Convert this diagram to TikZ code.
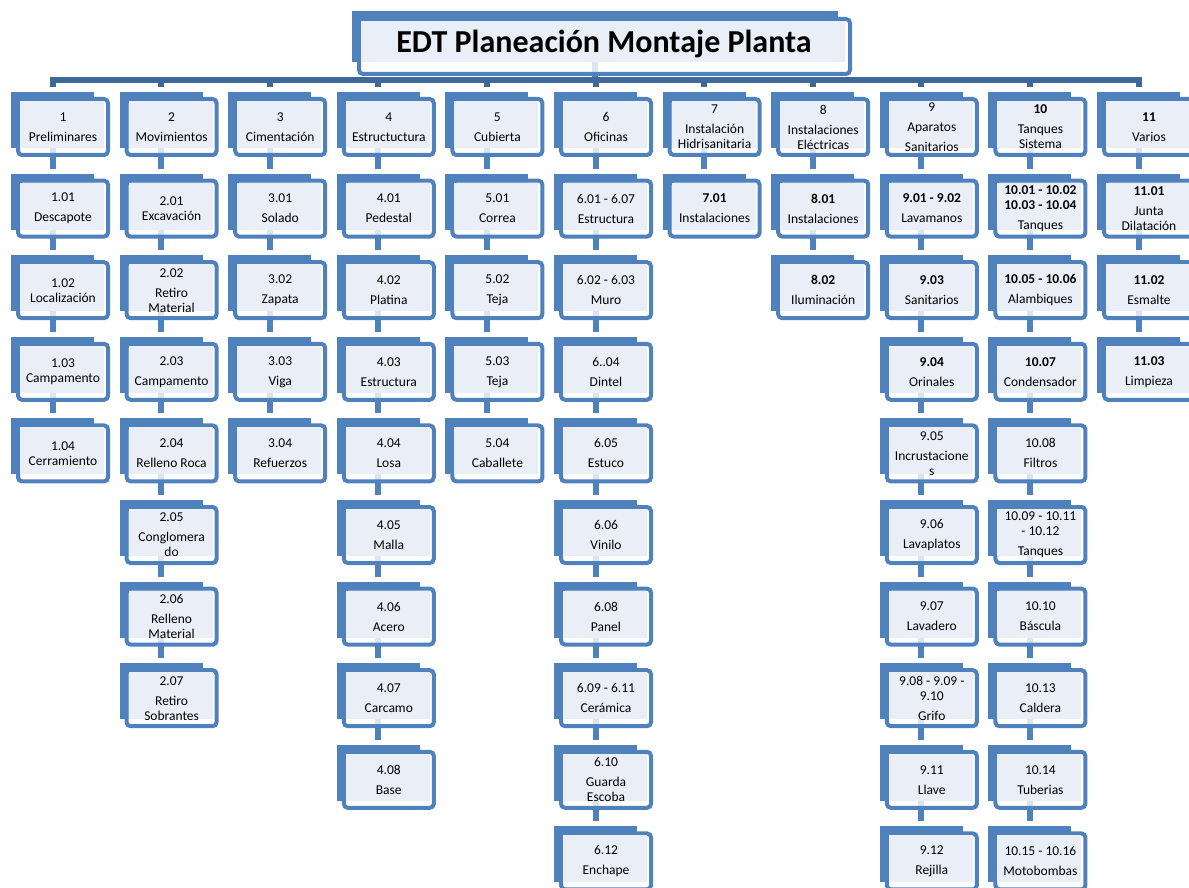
\documentclass[tikz,border=0pt]{standalone}
\usepackage{fontspec}
\setmainfont{Carlito}
\definecolor{boxblue}{HTML}{4F81BD}
\definecolor{busblue}{HTML}{3E6898}
\definecolor{lightfill}{HTML}{EAEFF7}
\tikzset{
  backrect/.style={fill=boxblue},
  frontrect/.style={draw=boxblue, line width=4pt, rounded corners=4pt, fill=white, fill opacity=0.8},
  lightrect/.style={fill=lightfill},
  lbl/.style={align=center, inner sep=0pt, font=\fontsize{13.5}{15}\selectfont},
  ttl/.style={inner sep=0pt, font=\fontsize{32}{36}\selectfont\bfseries},
  conn/.style={draw=boxblue, line width=6pt},
  busline/.style={draw=busblue, line width=6pt},
}
% pass 1: named end points only
\newcommand\wbspoints[4]{%
  \pgfmathsetmacro\bx{11+108.6*#2}%
  \pgfmathsetmacro\by{92+81.6*#3}%
  \coordinate (#1-t) at (\bx+41.5,\by-5);
  \coordinate (#1-b) at (\bx+41.5,\by+56);
}
% pass 2: the boxes themselves
\newcommand\wbsfull[4]{%
  \pgfmathsetmacro\bx{11+108.6*#2}%
  \pgfmathsetmacro\by{92+81.6*#3}%
  \fill[backrect] (\bx,\by) rectangle ++(83,56);
  \draw[frontrect] (\bx+7,\by+7) rectangle ++(90,56);
  \fill[lightrect] (\bx+9,\by+9) rectangle (\bx+93,\by+56);
  \node[lbl] (#1) at (\bx+52,\by+35) {#4};
}
\newcommand\allboxes{%
% column 1
\wbsbox{n0-0}{0}{0}{1\\[5pt]Preliminares}
\wbsbox{n0-1}{0}{1}{1.01\\[5pt]Descapote}
\wbsbox{n0-2}{0}{2}{1.02\\Localización}
\wbsbox{n0-3}{0}{3}{1.03\\Campamento}
\wbsbox{n0-4}{0}{4}{1.04\\Cerramiento}
% column 2
\wbsbox{n1-0}{1}{0}{2\\[5pt]Movimientos}
\wbsbox{n1-1}{1}{1}{2.01\\Excavación}
\wbsbox{n1-2}{1}{2}{2.02\\[5pt]Retiro\\Material}
\wbsbox{n1-3}{1}{3}{2.03\\[5pt]Campamento}
\wbsbox{n1-4}{1}{4}{2.04\\[5pt]Relleno Roca}
\wbsbox{n1-5}{1}{5}{2.05\\[5pt]Conglomera\\do}
\wbsbox{n1-6}{1}{6}{2.06\\[5pt]Relleno\\Material}
\wbsbox{n1-7}{1}{7}{2.07\\[5pt]Retiro\\Sobrantes}
% column 3
\wbsbox{n2-0}{2}{0}{3\\[5pt]Cimentación}
\wbsbox{n2-1}{2}{1}{3.01\\[5pt]Solado}
\wbsbox{n2-2}{2}{2}{3.02\\[5pt]Zapata}
\wbsbox{n2-3}{2}{3}{3.03\\[5pt]Viga}
\wbsbox{n2-4}{2}{4}{3.04\\[5pt]Refuerzos}
% column 4
\wbsbox{n3-0}{3}{0}{4\\[5pt]Estructuctura}
\wbsbox{n3-1}{3}{1}{4.01\\[5pt]Pedestal}
\wbsbox{n3-2}{3}{2}{4.02\\[5pt]Platina}
\wbsbox{n3-3}{3}{3}{4.03\\[5pt]Estructura}
\wbsbox{n3-4}{3}{4}{4.04\\[5pt]Losa}
\wbsbox{n3-5}{3}{5}{4.05\\[5pt]Malla}
\wbsbox{n3-6}{3}{6}{4.06\\[5pt]Acero}
\wbsbox{n3-7}{3}{7}{4.07\\[5pt]Carcamo}
\wbsbox{n3-8}{3}{8}{4.08\\[5pt]Base}
% column 5
\wbsbox{n4-0}{4}{0}{5\\[5pt]Cubierta}
\wbsbox{n4-1}{4}{1}{5.01\\[5pt]Correa}
\wbsbox{n4-2}{4}{2}{5.02\\[5pt]Teja}
\wbsbox{n4-3}{4}{3}{5.03\\[5pt]Teja}
\wbsbox{n4-4}{4}{4}{5.04\\[5pt]Caballete}
% column 6
\wbsbox{n5-0}{5}{0}{6\\[5pt]Oficinas}
\wbsbox{n5-1}{5}{1}{6.01 - 6.07\\[5pt]Estructura}
\wbsbox{n5-2}{5}{2}{6.02 - 6.03\\[5pt]Muro}
\wbsbox{n5-3}{5}{3}{6..04\\[5pt]Dintel}
\wbsbox{n5-4}{5}{4}{6.05\\[5pt]Estuco}
\wbsbox{n5-5}{5}{5}{6.06\\[5pt]Vinilo}
\wbsbox{n5-6}{5}{6}{6.08\\[5pt]Panel}
\wbsbox{n5-7}{5}{7}{6.09 - 6.11\\[5pt]Cerámica}
\wbsbox{n5-8}{5}{8}{6.10\\[5pt]Guarda\\Escoba}
\wbsbox{n5-9}{5}{9}{6.12\\[5pt]Enchape}
% column 7
\wbsbox{n6-0}{6}{0}{7\\[5pt]Instalación\\Hidrisanitaria}
\wbsbox{n6-1}{6}{1}{\textbf{7.01}\\[5pt]Instalaciones}
% column 8
\wbsbox{n7-0}{7}{0}{8\\[5pt]Instalaciones\\Eléctricas}
\wbsbox{n7-1}{7}{1}{\textbf{8.01}\\[5pt]Instalaciones}
\wbsbox{n7-2}{7}{2}{\textbf{8.02}\\[5pt]Iluminación}
% column 9
\wbsbox{n8-0}{8}{0}{9\\[5pt]Aparatos\\[5pt]Sanitarios}
\wbsbox{n8-1}{8}{1}{\textbf{9.01 - 9.02}\\[5pt]Lavamanos}
\wbsbox{n8-2}{8}{2}{\textbf{9.03}\\[5pt]Sanitarios}
\wbsbox{n8-3}{8}{3}{\textbf{9.04}\\[5pt]Orinales}
\wbsbox{n8-4}{8}{4}{9.05\\[5pt]Incrustacione\\s}
\wbsbox{n8-5}{8}{5}{9.06\\[5pt]Lavaplatos}
\wbsbox{n8-6}{8}{6}{9.07\\[5pt]Lavadero}
\wbsbox{n8-7}{8}{7}{9.08 - 9.09 -\\9.10\\[5pt]Grifo}
\wbsbox{n8-8}{8}{8}{9.11\\[5pt]Llave}
\wbsbox{n8-9}{8}{9}{9.12\\[5pt]Rejilla}
% column 10
\wbsbox{n9-0}{9}{0}{\textbf{10}\\[5pt]Tanques\\Sistema}
\wbsbox{n9-1}{9}{1}{\textbf{10.01 - 10.02}\\\textbf{10.03 - 10.04}\\[5pt]Tanques}
\wbsbox{n9-2}{9}{2}{\textbf{10.05 - 10.06}\\[5pt]Alambiques}
\wbsbox{n9-3}{9}{3}{\textbf{10.07}\\[5pt]Condensador}
\wbsbox{n9-4}{9}{4}{10.08\\[5pt]Filtros}
\wbsbox{n9-5}{9}{5}{10.09 - 10.11\\- 10.12\\[5pt]Tanques}
\wbsbox{n9-6}{9}{6}{10.10\\[5pt]Báscula}
\wbsbox{n9-7}{9}{7}{10.13\\[5pt]Caldera}
\wbsbox{n9-8}{9}{8}{10.14\\[5pt]Tuberias}
\wbsbox{n9-9}{9}{9}{10.15 - 10.16\\[5pt]Motobombas}
% column 11
\wbsbox{n10-0}{10}{0}{\textbf{11}\\[5pt]Varios}
\wbsbox{n10-1}{10}{1}{\textbf{11.01}\\[5pt]Junta\\Dilatación}
\wbsbox{n10-2}{10}{2}{\textbf{11.02}\\[5pt]Esmalte}
\wbsbox{n10-3}{10}{3}{\textbf{11.03}\\[5pt]Limpieza}
}
\begin{document}
\begin{tikzpicture}[x=1pt,y=-1pt]
\useasboundingbox (0,0) rectangle (1189,888);
\clip (0,0) rectangle (1189,888);
\coordinate (title-b) at (595,62);
\coordinate (bus) at (0,80.5);
% pass 1: end points
\let\wbsbox\wbspoints
\allboxes
% connectors (below the boxes)
\draw[conn] (title-b) -- (title-b |- bus);
\draw[busline] (n0-0-t) -- (n0-0-t |- bus) -- (n10-0-t |- bus) -- (n10-0-t);
\foreach \c in {1,...,9} { \draw[busline] (n\c-0-t) -- (n\c-0-t |- bus); }
\foreach \c/\m in {0/4,1/7,2/4,3/8,4/4,5/9,6/1,7/2,8/9,9/9,10/3} {
  \foreach \r in {1,...,\m} {
    \pgfmathtruncatemacro\q{\r-1}
    \draw[conn] (n\c-\q-b) -- (n\c-\r-t);
  }
}
% title box
\fill[backrect] (352,11) rectangle (838,62);
\draw[frontrect] (359,19) rectangle (850,74);
\fill[lightrect] (361,21) rectangle (845,62);
\node[ttl] (title) at (604,44) {EDT Planeación Montaje Planta};
% pass 2: boxes
\let\wbsbox\wbsfull
\allboxes
\end{tikzpicture}
\end{document}
